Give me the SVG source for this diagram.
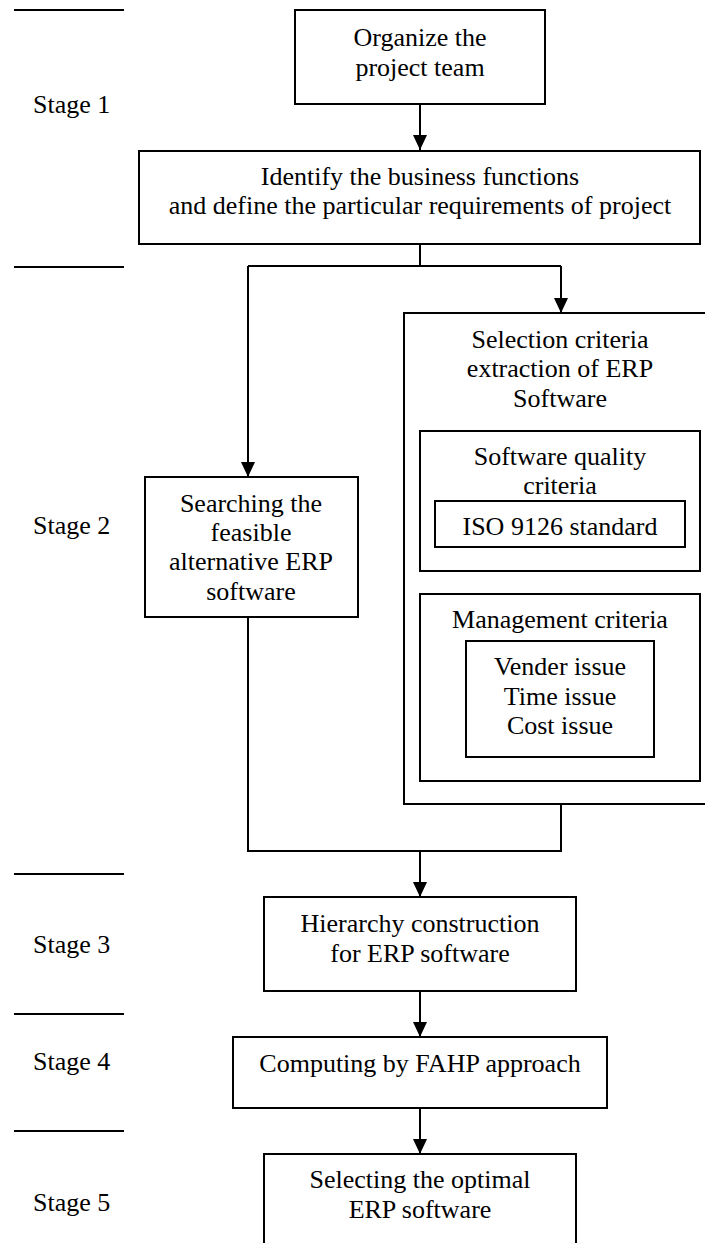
<svg xmlns="http://www.w3.org/2000/svg" width="705" height="1243" viewBox="0 0 705 1243">
<style>
  .box { fill: #ffffff; stroke: #000000; stroke-width: 2; }
  .con { fill: none; stroke: #000000; stroke-width: 2; }
  .sep { stroke: #000000; stroke-width: 2; }
  text { font-family: "Liberation Serif", "Times New Roman", serif; font-size: 26px; fill: #000000; }
  .c { text-anchor: middle; }
</style>
<defs>
  <marker id="arr" markerUnits="userSpaceOnUse" markerWidth="16" markerHeight="16" viewBox="0 0 16 16" refX="15" refY="8" orient="auto">
    <path d="M0,1 L15,8 L0,15 Z" fill="#000000"/>
  </marker>
</defs>
<rect width="705" height="1243" fill="#ffffff"/>

<g id="stages">
  <line class="sep" x1="14" y1="10" x2="124" y2="10"/>
  <line class="sep" x1="14" y1="267" x2="124" y2="267"/>
  <line class="sep" x1="14" y1="874" x2="124" y2="874"/>
  <line class="sep" x1="14" y1="1014" x2="124" y2="1014"/>
  <line class="sep" x1="14" y1="1131" x2="124" y2="1131"/>
  <text x="33" y="113">Stage 1</text>
  <text x="33" y="534">Stage 2</text>
  <text x="33" y="953">Stage 3</text>
  <text x="33" y="1070">Stage 4</text>
  <text x="33" y="1211">Stage 5</text>
</g>

<g id="connectors">
  <line class="con" x1="420" y1="104" x2="420" y2="150" marker-end="url(#arr)"/>
  <polyline class="con" points="420,244 420,266"/>
  <polyline class="con" points="248,266 561,266"/>
  <line class="con" x1="248" y1="266" x2="248" y2="477" marker-end="url(#arr)"/>
  <line class="con" x1="561" y1="266" x2="561" y2="313" marker-end="url(#arr)"/>
  <polyline class="con" points="248,617 248,851 561,851 561,804"/>
  <line class="con" x1="420" y1="851" x2="420" y2="897" marker-end="url(#arr)"/>
  <line class="con" x1="420" y1="991" x2="420" y2="1037" marker-end="url(#arr)"/>
  <line class="con" x1="420" y1="1108" x2="420" y2="1154" marker-end="url(#arr)"/>
</g>

<g id="organize">
  <rect class="box" x="295" y="10" width="250" height="94"/>
  <text class="c" x="420" y="46">Organize the</text>
  <text class="c" x="420" y="76">project team</text>
</g>

<g id="identify">
  <rect class="box" x="139" y="151" width="561" height="93"/>
  <text class="c" x="420" y="185">Identify the business functions</text>
  <text class="c" x="420" y="214">and define the particular requirements of project</text>
</g>

<g id="searching">
  <rect class="box" x="145" y="477" width="213" height="140"/>
  <text class="c" x="251" y="512">Searching the</text>
  <text class="c" x="251" y="541">feasible</text>
  <text class="c" x="251" y="570">alternative ERP</text>
  <text class="c" x="251" y="600">software</text>
</g>

<g id="selection-criteria">
  <rect class="box" x="404" y="313" width="320" height="491"/>
  <text class="c" x="560" y="348">Selection criteria</text>
  <text class="c" x="560" y="377">extraction of ERP</text>
  <text class="c" x="560" y="407">Software</text>
</g>

<g id="software-quality">
  <rect class="box" x="420" y="431" width="280" height="140"/>
  <text class="c" x="560" y="465">Software quality</text>
  <text class="c" x="560" y="494">criteria</text>
</g>

<g id="iso">
  <rect class="box" x="435" y="501" width="250" height="46"/>
  <text class="c" x="560" y="535">ISO 9126 standard</text>
</g>

<g id="management">
  <rect class="box" x="420" y="594" width="280" height="187"/>
  <text class="c" x="560" y="628">Management criteria</text>
</g>

<g id="issues">
  <rect class="box" x="466" y="641" width="188" height="116"/>
  <text class="c" x="560" y="675">Vender issue</text>
  <text class="c" x="560" y="705">Time issue</text>
  <text class="c" x="560" y="734">Cost issue</text>
</g>

<g id="hierarchy">
  <rect class="box" x="264" y="897" width="312" height="94"/>
  <text class="c" x="420" y="932">Hierarchy construction</text>
  <text class="c" x="420" y="962">for ERP software</text>
</g>

<g id="computing">
  <rect class="box" x="233" y="1037" width="374" height="71"/>
  <text class="c" x="420" y="1072">Computing by FAHP approach</text>
</g>

<g id="selecting">
  <rect class="box" x="264" y="1154" width="312" height="100"/>
  <text class="c" x="420" y="1188">Selecting the optimal</text>
  <text class="c" x="420" y="1218">ERP software</text>
</g>
</svg>
